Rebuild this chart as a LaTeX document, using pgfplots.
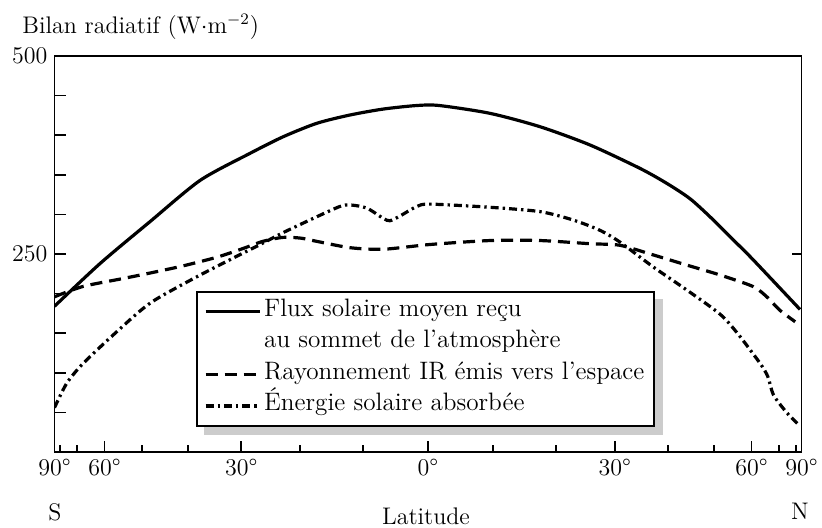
\documentclass[border=0pt]{standalone}
\usepackage{pgfplots}
\pgfplotsset{compat=1.18}
\usetikzlibrary{backgrounds}
\begin{document}
\begin{tikzpicture}[font=\fontsize{12}{14.4}\selectfont]
\path[use as bounding box] (-27.25pt,-37.5pt) rectangle (383.75pt,226pt);
\begin{axis}[
  at={(0pt,0pt)}, anchor=south west,
  scale only axis, width=373.5pt, height=198pt,
  xmin=-1, xmax=1, ymin=0, ymax=500,
  axis line style={line width=0.8pt},
  every tick/.style={black, line width=0.8pt},
  tick align=inside,
  xtick pos=left, ytick pos=left,
  xtick={-1,-0.8660,-0.5,0,0.5,0.8660,1},
  xticklabels={90°,60°,30°,0°,30°,60°,90°},
  minor xtick={-0.9848,-0.9397,-0.7660,-0.6428,-0.3420,-0.1736,0.1736,0.3420,0.6428,0.7660,0.9397,0.9848},
  major tick length=5.5pt, minor tick length=3.5pt,
  ytick={0,50,...,500},
  yticklabels={,,,,,250,,,,,500},
  legend style={name=leg, at={(0.1894,0.4066)}, anchor=north west, draw=black, line width=1pt, fill=white,
    inner xsep=3.5pt, inner ysep=2pt, row sep=0pt,
    font=\fontsize{12.6}{15}\selectfont,
    nodes={inner sep=1.5pt, text height=8.6pt, text depth=4.1pt}},
  legend cell align=left,
  legend image code/.code={\draw[#1] (0pt,0pt) -- (27pt,0pt);},
]
\addplot[black, line width=1.6pt, smooth, tension=0.45] table {
x y
-1 184
-0.878 238
-0.744 291
-0.61 343
-0.477 377
-0.388 398
-0.298 415
-0.209 425.5
-0.12 433
-0.03 437.5
0.03 437.5
0.166 427.6
0.3 410.7
0.434 387.6
0.568 358
0.640 339
0.701 320
0.755 297
0.817 268
0.870 243
0.996 180
};
\addlegendentry{Flux solaire moyen reçu}
\addlegendimage{empty legend}
\addlegendentry{au sommet de l’atmosphère}
\addplot[black, line width=1.6pt, smooth, tension=0.45, dash pattern=on 6pt off 3.5pt] table {
x y
-1 196
-0.924 209
-0.817 219
-0.744 226
-0.656 235
-0.565 246
-0.495 257
-0.442 266
-0.388 271
-0.34 270
-0.298 266
-0.209 258
-0.12 256
0.005 262
0.166 267
0.3 267
0.434 263
0.514 261
0.602 249
0.693 236
0.782 223.5
0.870 209
0.907 196
0.942 179
0.983 164.5
};
\addlegendentry{Rayonnement IR émis vers l’espace}
\addplot[black, line width=1.6pt, smooth, tension=0.45, dash pattern=on 4pt off 2pt on 1.2pt off 2pt] table {
x y
-1 56
-0.967 87
-0.923 112
-0.833 152
-0.744 188
-0.628 219
-0.521 245
-0.441 264
-0.388 277
-0.298 297
-0.236 310
-0.209 312
-0.164 308
-0.12 295
-0.102 292
-0.075 298
-0.03 310
0.005 313
0.166 309
0.3 303.5
0.388 293
0.46 280
0.514 265
0.602 234
0.693 204.5
0.782 174
0.83 149
0.889 112
0.91 95
0.925 72
0.96 50
0.993 34
};
\addlegendentry{Énergie solaire absorbée}
\draw[line width=0.8pt] (rel axis cs:1,0.5) -- ++(-5pt,0pt);
\end{axis}
\begin{pgfonlayer}{background}
\fill[black!20] ([shift={(4pt,-4pt)}]leg.south west) rectangle ([shift={(4pt,-4pt)}]leg.north east);
\end{pgfonlayer}
\node[anchor=base west, inner sep=0pt] at (-16.25pt,209.5pt) {Bilan radiatif (W$\cdot$m$^{-2}$)};
\node[anchor=base, inner sep=0pt] at (0.25pt,-34pt) {S};
\node[anchor=base, inner sep=0pt] at (372.75pt,-33.5pt) {N};
\node[anchor=base, inner sep=0pt] at (185.75pt,-36pt) {Latitude};
\end{tikzpicture}
\end{document}
